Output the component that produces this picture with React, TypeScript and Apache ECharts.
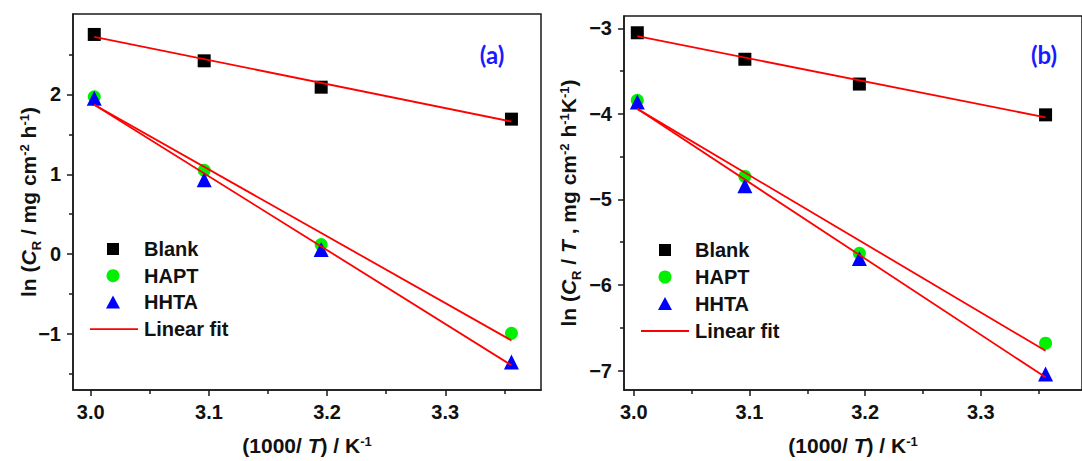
import React, { useEffect, useRef } from "react";
import * as echarts from "echarts";

// 1000/T values (K^-1)
const invT = [3.003, 3.096, 3.195, 3.356];
// Panel (a): ln(CR)
const blankA = [2.75, 2.42, 2.09, 1.69];
const haptA = [1.97, 1.05, 0.12, -0.99];
const hhtaA = [1.95, 0.93, 0.06, -1.35];
// Panel (b): ln(CR/T)
const blankB = [-3.05, -3.36, -3.65, -4.01];
const haptB = [-3.84, -4.73, -5.63, -6.68];
const hhtaB = [-3.86, -4.84, -5.69, -7.04];
// Linear fit end points
const fitX = [3.003, 3.356];
const fitBlankA = [2.72, 1.66];
const fitHaptA = [1.87, -1.08];
const fitHhtaA = [1.87, -1.39];
const fitBlankB = [-3.09, -4.04];
const fitHaptB = [-3.94, -6.77];
const fitHhtaB = [-3.94, -7.08];
// Ticks
const xMajor = [3.0, 3.1, 3.2, 3.3];
const xMinor = [3.05, 3.15, 3.25, 3.35];
const yMajorA = [-1, 0, 1, 2];
const yMinorA = [-1.5, -0.5, 0.5, 1.5, 2.5];
const yMajorB = [-7, -6, -5, -4, -3];
const yMinorB = [-6.5, -5.5, -4.5, -3.5];
const legendNames = ["Blank", "HAPT", "HHTA", "Linear fit"];
const panelLabels = ["(a)", "(b)"];

const FONT = "'Liberation Sans', Arial, sans-serif";
const AXIS_COLOR = "#1a1a1a";
const C_BLANK = "#000000";
const C_HAPT = "#00f000";
const C_HHTA = "#0000ff";
const C_FIT = "#ff0000";
const TICK_FS = 20;

const richBase = { fontFamily: FONT, fontWeight: "bold", color: "#111", fontSize: 21 };
const rich = {
  n: { ...richBase, lineHeight: 21, verticalAlign: "top" },
  i: { ...richBase, fontStyle: "italic", lineHeight: 21, verticalAlign: "top" },
  sub: { ...richBase, fontSize: 13, lineHeight: 25, verticalAlign: "bottom" },
  sup: { ...richBase, fontSize: 13, lineHeight: 13, verticalAlign: "top" },
};

const fmtY = (v: number) => (v < 0 ? "\u2212" + Math.abs(v) : String(v));

function mainX(gridIndex: number, min: number, max: number) {
  return {
    type: "value",
    gridIndex,
    min,
    max,
    position: "bottom",
    name: "{n|(1000/ }{i|T}{n|) / K}{sup|-1}",
    nameLocation: "middle",
    nameGap: 45,
    nameTextStyle: { ...richBase, rich },
    axisLine: { show: true, onZero: false, lineStyle: { color: AXIS_COLOR, width: 1.5 } },
    axisTick: { show: true, inside: false, length: 6, customValues: xMajor, lineStyle: { color: AXIS_COLOR, width: 1.5 } },
    axisLabel: {
      customValues: xMajor,
      formatter: (v: number) => v.toFixed(1),
      fontFamily: FONT,
      fontWeight: "bold",
      fontSize: TICK_FS,
      color: "#111",
      margin: 12,
    },
    splitLine: { show: false },
  };
}
function minorX(gridIndex: number, min: number, max: number) {
  return {
    type: "value",
    gridIndex,
    min,
    max,
    position: "bottom",
    axisLine: { show: false, onZero: false },
    axisTick: { show: true, inside: false, length: 4, customValues: xMinor, lineStyle: { color: AXIS_COLOR, width: 1.5 } },
    axisLabel: { show: false },
    splitLine: { show: false },
  };
}
function mainY(gridIndex: number, min: number, max: number, ticks: number[], name: string, gap: number) {
  return {
    type: "value",
    gridIndex,
    min,
    max,
    position: "left",
    name,
    nameLocation: "middle",
    nameGap: gap,
    nameRotate: 90,
    nameMoveOverlap: false,
    nameTextStyle: { ...richBase, rich },
    axisLine: { show: true, onZero: false, lineStyle: { color: AXIS_COLOR, width: 1.5 } },
    axisTick: { show: true, inside: false, length: 6, customValues: ticks, lineStyle: { color: AXIS_COLOR, width: 1.5 } },
    axisLabel: {
      customValues: ticks,
      formatter: fmtY,
      fontFamily: FONT,
      fontWeight: "bold",
      fontSize: TICK_FS,
      color: "#111",
      margin: 12,
    },
    splitLine: { show: false },
  };
}
function minorY(gridIndex: number, min: number, max: number, ticks: number[]) {
  return {
    type: "value",
    gridIndex,
    min,
    max,
    position: "left",
    axisLine: { show: false, onZero: false },
    axisTick: { show: true, inside: false, length: 4, customValues: ticks, lineStyle: { color: AXIS_COLOR, width: 1.5 } },
    axisLabel: { show: false },
    splitLine: { show: false },
  };
}

function panelSeries(xi: number, yi: number, blank: number[], hapt: number[], hhta: number[], fits: number[][]) {
  const pts = (ys: number[]) => invT.map((x, i) => [x, ys[i]]);
  const scat = (name: string, ys: number[], symbol: string, size: number, color: string) => ({
    type: "scatter",
    name,
    xAxisIndex: xi,
    yAxisIndex: yi,
    data: pts(ys),
    symbol,
    symbolSize: size,
    itemStyle: { color, opacity: 1 },
    z: 2,
  });
  const out: any[] = [
    scat(legendNames[0], blank, "rect", 13, C_BLANK),
    scat(legendNames[1], hapt, "circle", 13, C_HAPT),
    scat(legendNames[2], hhta, "triangle", 15, C_HHTA),
  ];
  fits.forEach((f) => {
    out.push({
      type: "line",
      name: legendNames[3],
      xAxisIndex: xi,
      yAxisIndex: yi,
      data: fitX.map((x, i) => [x, f[i]]),
      symbol: "none",
      lineStyle: { color: C_FIT, width: 1.8 },
      z: 4,
    });
  });
  return out;
}

function legendGraphic(mx: number, tx: number, y0: number, dy: number, lx1: number, lx2: number) {
  const ys = [0, 1, 2, 3].map((k) => y0 + k * dy);
  const textStyle = (t: string) => ({
    text: t,
    font: `bold ${TICK_FS}px ${FONT}`,
    fill: "#111",
    verticalAlign: "middle",
    textVerticalAlign: "middle",
  });
  return [
    { type: "rect", shape: { x: mx - 6, y: ys[0] - 6, width: 12, height: 12 }, style: { fill: C_BLANK } },
    { type: "circle", shape: { cx: mx, cy: ys[1], r: 6.5 }, style: { fill: C_HAPT } },
    {
      type: "polygon",
      shape: { points: [[mx - 7, ys[2] + 6], [mx + 7, ys[2] + 6], [mx, ys[2] - 7]] },
      style: { fill: C_HHTA },
    },
    { type: "line", shape: { x1: lx1, y1: ys[3], x2: lx2, y2: ys[3] }, style: { stroke: C_FIT, lineWidth: 1.8 } },
    ...legendNames.map((n, k) => ({ type: "text", x: tx, y: ys[k], style: textStyle(n) })),
  ];
}

const panelLabelStyle = (t: string) => ({
  text: t,
  font: "bold 24px Lato, 'Open Sans', sans-serif",
  fill: "#1a1aff",
  align: "center",
  textAlign: "center",
  verticalAlign: "middle",
  textVerticalAlign: "middle",
});

export default function App() {
  const ref = useRef<HTMLDivElement>(null);
  useEffect(() => {
    if (!ref.current) return;
    const chart = echarts.init(ref.current, undefined, { renderer: "svg" });
    const option: any = {
      animation: false,
      backgroundColor: "#ffffff",
      grid: [
        { left: 73, top: 14, width: 468, height: 378, show: true, borderColor: AXIS_COLOR, borderWidth: 1.5, backgroundColor: "transparent" },
        { left: 624, top: 16, width: 491, height: 377, show: true, borderColor: AXIS_COLOR, borderWidth: 1.5, backgroundColor: "transparent" },
      ],
      xAxis: [
        mainX(0, 2.985, 3.381),
        minorX(0, 2.985, 3.381),
        mainX(1, 2.9915, 3.3875),
        minorX(1, 2.9915, 3.3875),
      ],
      yAxis: [
        mainY(0, -1.7, 3.006, yMajorA, "{n|ln (}{i|C}{sub|R}{n| / mg cm}{sup|-2}{n| h}{sup|-1}{n|)}", 30),
        minorY(0, -1.7, 3.006, yMinorA),
        mainY(1, -7.228, -2.854, yMajorB, "{n|ln (}{i|C}{sub|R}{n| / }{i|T}{n| , mg cm}{sup|-2}{n| h}{sup|-1}{n|K}{sup|-1}{n|)}", 41),
        minorY(1, -7.228, -2.854, yMinorB),
      ],
      series: [
        ...panelSeries(0, 0, blankA, haptA, hhtaA, [fitBlankA, fitHaptA, fitHhtaA]),
        ...panelSeries(2, 2, blankB, haptB, hhtaB, [fitBlankB, fitHaptB, fitHhtaB]),
      ],
      graphic: [
        ...legendGraphic(113, 144, 249, 26.7, 90, 138),
        ...legendGraphic(665, 695, 250, 27, 641, 689),
        { type: "text", x: 492, y: 54, style: panelLabelStyle(panelLabels[0]) },
        { type: "text", x: 1044, y: 54, style: panelLabelStyle(panelLabels[1]) },
      ],
    };
    chart.setOption(option);
    return () => chart.dispose();
  }, []);
  return (
    <div
      ref={ref}
      style={{ position: "fixed", left: 0, top: 0, width: 1082, height: 461, overflow: "hidden", background: "#fff" }}
    />
  );
}
